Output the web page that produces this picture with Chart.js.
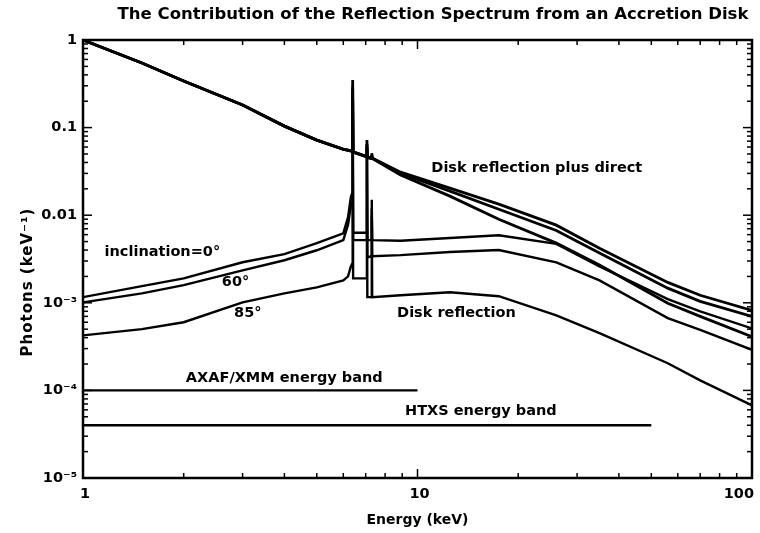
<!DOCTYPE html>
<html>
<head>
<meta charset="utf-8">
<script src="https://cdn.jsdelivr.net/npm/chart.js@4.4.0/dist/chart.umd.min.js"></script>
<style>
  html, body { margin: 0; padding: 0; background: #fff; }
  canvas { display: block; }
</style>
</head>
<body>
<canvas id="myChart" width="760" height="533"></canvas>
<script>
// energy grid (keV), shared by all spectra
const energies = [1, 1.5, 2, 3, 4, 5, 6, 6.2, 6.32, 6.38, 6.4, 6.42, 7.04, 7.06, 7.08, 7.28, 7.3, 7.32, 8.9, 12.5, 17.5, 26, 35, 56, 70, 100];

// disk reflection plus direct (inclination 0, 60, 85 deg)
const direct0  = [1, 0.546, 0.34, 0.181, 0.104, 0.072, 0.0568, 0.0555, 0.0545, 0.054, 0.35, 0.053, 0.047, 0.072, 0.046, 0.045, 0.051, 0.045, 0.031, 0.0204, 0.0134, 0.0077, 0.0042, 0.00171, 0.00122, 0.00082];
const direct60 = [1, 0.546, 0.34, 0.181, 0.104, 0.072, 0.0566, 0.0552, 0.0542, 0.0537, 0.28, 0.0527, 0.0467, 0.065, 0.0457, 0.0447, 0.049, 0.0447, 0.0302, 0.0188, 0.0117, 0.0067, 0.0037, 0.00147, 0.00104, 0.0007];
const direct85 = [1, 0.546, 0.34, 0.181, 0.104, 0.072, 0.0563, 0.0549, 0.0539, 0.0534, 0.2, 0.0524, 0.0464, 0.06, 0.0454, 0.0444, 0.048, 0.0444, 0.0287, 0.0165, 0.009, 0.0048, 0.0027, 0.00099, 0.0007, 0.00041];

// disk reflection only
const refl0  = [0.00116, 0.00155, 0.0019, 0.0029, 0.0036, 0.0048, 0.0062, 0.0095, 0.016, 0.018, 0.3, 0.0063, 0.0063, 0.06, 0.0052, 0.0052, 0.012, 0.0052, 0.0051, 0.0055, 0.0059, 0.0047, 0.0026, 0.0011, 0.0008, 0.00051];
const refl60 = [0.00101, 0.00128, 0.00159, 0.00235, 0.00306, 0.00398, 0.0052, 0.0078, 0.013, 0.014, 0.25, 0.0052, 0.0052, 0.05, 0.0033, 0.0034, 0.01, 0.0034, 0.0035, 0.0038, 0.004, 0.0029, 0.0018, 0.00067, 0.00049, 0.00029];
const refl85 = [0.000425, 0.0005, 0.0006, 0.00101, 0.00128, 0.0015, 0.0018, 0.002, 0.0026, 0.0028, 0.2, 0.0019, 0.0019, 0.065, 0.00116, 0.00116, 0.015, 0.00116, 0.00122, 0.00132, 0.00119, 0.00072, 0.00045, 0.000204, 0.00013, 0.0000674];

// instrument energy bands
const axafE = [1, 10];
const axafP = [1e-4, 1e-4];
const htxsE = [1, 50];
const htxsP = [4e-5, 4e-5];

// axis ticks
const xTicks = [1, 10, 100];
const xTickLabels = ['1', '10', '100'];
const yTicks = [1e-5, 1e-4, 1e-3, 0.01, 0.1, 1];
const yTickLabels = ['10\u207B\u2075', '10\u207B\u2074', '10\u207B\u00B3', '0.01', '0.1', '1'];

const FONT = '"DejaVu Sans", "Liberation Sans", sans-serif';

const toPoints = (xs, ys) => xs.map((x, i) => ({ x: x, y: ys[i] }));

const line = (label, xs, ys, w) => ({
  label: label,
  data: toPoints(xs, ys),
  showLine: true,
  borderColor: '#000',
  borderWidth: w || 2.4,
  pointRadius: 0,
  tension: 0
});

// text placed in data coordinates
const notes = [
  { text: 'Disk reflection plus direct', e: 11.0, p: 0.0344 },
  { text: 'inclination=0\u00B0', e: 1.16, p: 0.00378 },
  { text: '60\u00B0', e: 2.6, p: 0.00171 },
  { text: '85\u00B0', e: 2.83, p: 0.000759 },
  { text: 'Disk reflection', e: 8.69, p: 0.000759 },
  { text: 'AXAF/XMM energy band', e: 2.03, p: 1.37e-4 },
  { text: 'HTXS energy band', e: 9.18, p: 5.75e-5 }
];

const frame = {
  id: 'frame',
  afterDraw(chart) {
    const { ctx, chartArea: a } = chart;
    const x = chart.scales.x, y = chart.scales.y;
    ctx.save();
    ctx.strokeStyle = '#000';
    ctx.lineWidth = 2.5;
    ctx.strokeRect(a.left, a.top, a.right - a.left, a.bottom - a.top);

    ctx.lineWidth = 1.5;
    const seg = (x1, y1, x2, y2) => {
      ctx.beginPath(); ctx.moveTo(x1, y1); ctx.lineTo(x2, y2); ctx.stroke();
    };
    for (let d = 0; d <= 2; d++) {
      for (let m = 1; m < 10; m++) {
        const v = m * Math.pow(10, d);
        if (v > 100) break;
        const px = x.getPixelForValue(v);
        const len = m === 1 ? 9 : 5;
        seg(px, a.bottom, px, a.bottom - len);
        seg(px, a.top, px, a.top + len);
      }
    }
    for (let d = -5; d <= 0; d++) {
      for (let m = 1; m < 10; m++) {
        const v = m * Math.pow(10, d);
        if (v > 1) break;
        const py = y.getPixelForValue(v);
        const len = m === 1 ? 9 : 5;
        seg(a.left, py, a.left + len, py);
        seg(a.right, py, a.right - len, py);
      }
    }

    ctx.fillStyle = '#000';
    ctx.textBaseline = 'middle';

    // x tick labels; the last one is kept inside the canvas
    ctx.font = 'bold 14.5px ' + FONT;
    xTicks.forEach((v, i) => {
      const last = i === xTicks.length - 1;
      ctx.textAlign = last ? 'right' : 'center';
      ctx.fillText(xTickLabels[i], x.getPixelForValue(v) + (last ? 2 : 2), a.bottom + 16);
    });

    ctx.textAlign = 'left';
    ctx.font = 'bold 14.5px ' + FONT;
    notes.forEach(n => {
      ctx.fillText(n.text, x.getPixelForValue(n.e), y.getPixelForValue(n.p));
    });

    ctx.textAlign = 'center';
    ctx.font = 'bold 16.5px ' + FONT;
    ctx.fillText('The Contribution of the Reflection Spectrum from an Accretion Disk', 433, 15);

    ctx.font = 'bold 15px ' + FONT;
    ctx.letterSpacing = '1px';
    ctx.translate(28, 282);
    ctx.rotate(-Math.PI / 2);
    ctx.fillText('Photons (keV\u207B\u00B9)', 0, 0);
    ctx.restore();
  }
};

new Chart(document.getElementById('myChart'), {
  type: 'scatter',
  data: {
    datasets: [
      line('Direct + reflection 0', energies, direct0, 2.8),
      line('Direct + reflection 60', energies, direct60, 2.8),
      line('Direct + reflection 85', energies, direct85, 2.8),
      line('Reflection 0', energies, refl0),
      line('Reflection 60', energies, refl60),
      line('Reflection 85', energies, refl85),
      line('AXAF/XMM', axafE, axafP),
      line('HTXS', htxsE, htxsP)
    ]
  },
  options: {
    responsive: false,
    animation: false,
    devicePixelRatio: 1,
    layout: { padding: { top: 40, right: 8, left: 0, bottom: 0 } },
    plugins: {
      legend: { display: false },
      tooltip: { enabled: false }
    },
    scales: {
      x: {
        type: 'logarithmic',
        min: 1,
        max: 100,
        afterBuildTicks: s => { s.ticks = xTicks.map(v => ({ value: v })); },
        afterFit: s => { s.height = 55; s.paddingLeft = 0; s.paddingRight = 0; },
        grid: { display: false, drawTicks: false },
        border: { display: false },
        ticks: { display: false },
        title: {
          display: true,
          text: 'Energy (keV)',
          color: '#000',
          padding: { top: 0, bottom: 4 },
          font: { family: FONT, size: 14, weight: 'bold' }
        }
      },
      y: {
        type: 'logarithmic',
        min: 1e-5,
        max: 1,
        afterBuildTicks: s => { s.ticks = yTicks.map(v => ({ value: v })); },
        afterFit: s => { s.width = 83; },
        grid: { display: false, drawTicks: false },
        border: { display: false },
        ticks: {
          color: '#000',
          padding: 6,
          autoSkip: false,
          font: { family: FONT, size: 14.5, weight: 'bold' },
          callback: (v, i) => yTickLabels[i]
        }
      }
    }
  },
  plugins: [frame]
});
</script>
</body>
</html>
